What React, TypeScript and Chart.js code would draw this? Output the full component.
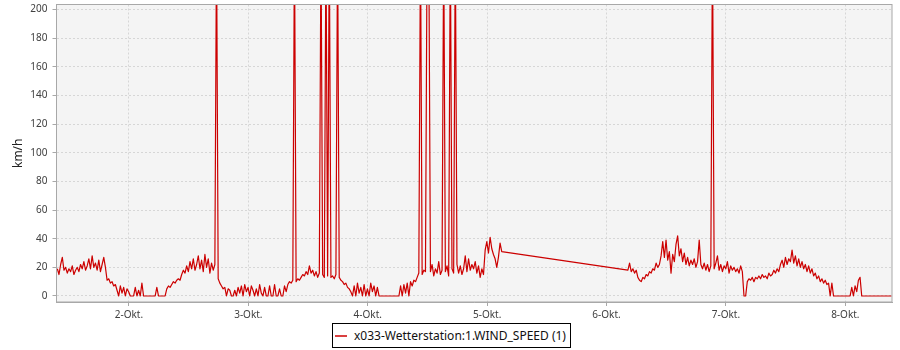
import React, { useEffect, useRef } from "react";
import { Chart, registerables } from "chart.js";

Chart.register(...registerables);

// ---- data ----
const seriesLabel = "x033-Wetterstation:1.WIND_SPEED (1)";
const yAxisTitle = "km/h";
const monthSuffix = "-Okt.";
const dayTicks = [2, 3, 4, 5, 6, 7, 8];
const speedTicks = [0, 20, 40, 60, 80, 100, 120, 140, 160, 180, 200];

// sampling interval of the readings, in minutes
const STEP_MINUTES = 20;

// first block: 1-Okt ~09:35 to 5-Okt ~02:55 (day-of-month, fractional)
const segmentAStartDay = 1.4;
const segmentA = [
  19, 15, 22, 27, 18, 20, 16, 19, 17, 21,
  15, 18, 20, 17, 22, 19, 24, 18, 21, 26,
  19, 28, 20, 23, 18, 25, 17, 22, 27, 20,
  11, 12, 9, 10, 7, 8, 4, 0, 7, 2,
  6, 0, 5, 3, 0, 0, 0, 6, 0, 4,
  0, 9, 0, 0, 0, 0, 0, 0, 0, 0,
  6, 0, 0, 0, 0, 0, 5, 7, 6, 8,
  10, 9, 11, 12, 11, 15, 18, 16, 21, 17,
  24, 19, 26, 18, 22, 28, 19, 25, 17, 29,
  20, 26, 16, 23, 18, 22, 250, 12, 9, 7,
  5, 6, 0, 5, 4, 0, 0, 4, 0, 6,
  2, 7, 0, 8, 3, 6, 0, 7, 4, 0,
  5, 0, 8, 2, 0, 6, 0, 0, 7, 0,
  0, 8, 0, 0, 5, 0, 0, 7, 3, 8,
  10, 9, 11, 250, 10, 12, 11, 13, 15, 14,
  17, 15, 21, 16, 18, 14, 17, 13, 16, 250,
  15, 13, 250, 14, 250, 13, 14, 12, 15, 250,
  13, 11, 10, 8, 9, 6, 5, 3, 0, 7,
  0, 9, 2, 6, 0, 8, 0, 5, 0, 9,
  3, 7, 0, 6, 0, 0, 0, 0, 0, 0,
  0, 0, 0, 0, 0, 0, 0, 7, 0, 8,
  2, 9, 0, 10, 7, 11, 10, 13, 16, 250,
  15, 18, 17, 250, 250, 17, 22, 14, 19, 16,
  24, 15, 18, 250, 17, 21, 14, 250, 19, 16,
  250, 22, 16, 21, 15, 19, 28, 17, 26, 18,
  22, 19, 24, 16, 21, 13, 19, 15, 32, 38,
  30, 41, 33, 29, 26, 20, 27, 37, 31,
];

// second block after the data gap: 6-Okt ~04:20 to 8-Okt ~09:20
const segmentBStartDay = 6.179;
const segmentB = [
  18, 23, 17, 19, 16, 18, 13, 11, 10, 13,
  12, 15, 14, 17, 16, 19, 18, 23, 20, 22,
  28, 38, 27, 39, 25, 31, 16, 29, 24, 36,
  42, 28, 33, 24, 30, 22, 27, 21, 25, 22,
  26, 20, 24, 39, 22, 19, 23, 18, 22, 17,
  21, 250, 19, 23, 28, 18, 22, 17, 21, 19,
  24, 16, 21, 18, 20, 17, 19, 16, 21, 17,
  0, 0, 10, 12, 11, 13, 10, 13, 12, 14,
  12, 15, 13, 14, 12, 16, 14, 15, 18, 16,
  19, 17, 22, 25, 20, 27, 22, 26, 24, 32,
  23, 28, 21, 26, 20, 24, 19, 22, 17, 21,
  16, 19, 14, 16, 12, 14, 10, 12, 9, 11,
  8, 9, 0, 9, 0, 0, 0, 0, 0, 0,
  0, 0, 0, 0, 0, 6, 0, 7, 3, 11,
  13, 0, 0, 0, 0, 0, 0, 0, 0, 0,
  0, 0, 0, 0, 0, 0, 0, 0, 0, 0,
];

// ---- styling ----
const FONT = "'Noto Sans', 'Open Sans', sans-serif";
const LINE_COLOR = "#cc0000";
const PLOT_BG = "#f4f4f4";
const FRAME_COLOR = "#a8a8a8";
const GRID_COLOR = "#d6d6d6";
const TEXT_COLOR = "#404040";

const plotFrame = {
  id: "plotFrame",
  beforeDraw(chart: any) {
    const { ctx, chartArea } = chart;
    if (!chartArea) return;
    const { left, top, right, bottom } = chartArea;
    ctx.save();
    ctx.fillStyle = PLOT_BG;
    ctx.fillRect(left, top, right - left, bottom - top);
    ctx.restore();
  },
  afterDraw(chart: any) {
    const { ctx, chartArea } = chart;
    if (!chartArea) return;
    const { left, top, right, bottom } = chartArea;
    ctx.save();
    ctx.strokeStyle = FRAME_COLOR;
    ctx.lineWidth = 1;
    ctx.strokeRect(left, top, right - left, bottom - top);
    ctx.restore();
  },
};

export default function App() {
  const canvasRef = useRef<HTMLCanvasElement | null>(null);

  useEffect(() => {
    if (!canvasRef.current) return;
    const step = STEP_MINUTES / 1440;
    const points = [
      ...segmentA.map((v, i) => ({ x: segmentAStartDay + i * step, y: v })),
      ...segmentB.map((v, i) => ({ x: segmentBStartDay + i * step, y: v })),
    ];

    Chart.defaults.font.family = FONT;

    const chart = new Chart(canvasRef.current, {
      type: "line",
      data: {
        datasets: [
          {
            label: seriesLabel,
            data: points,
            borderColor: LINE_COLOR,
            backgroundColor: LINE_COLOR,
            borderWidth: 1.2,
            pointRadius: 0,
            pointHoverRadius: 0,
            tension: 0,
            fill: false,
            borderJoinStyle: "round",
          },
        ],
      },
      options: {
        animation: false,
        responsive: false,
        maintainAspectRatio: false,
        events: [],
        layout: { padding: { left: 0, right: 8, top: 4.5, bottom: 0 } },
        plugins: {
          legend: { display: false },
          tooltip: { enabled: false },
        },
        scales: {
          x: {
            type: "linear",
            min: 1.393,
            max: 8.391,
            afterBuildTicks: (s: any) => {
              s.ticks = dayTicks.map((v) => ({ value: v }));
            },
            afterFit: (s: any) => {
              s.height = 48;
              s.paddingLeft = 0;
              s.paddingRight = 0;
            },
            ticks: {
              autoSkip: false,
              maxRotation: 0,
              padding: 3,
              color: TEXT_COLOR,
              font: { size: 10, family: FONT },
              callback: (v: any) => `${v}${monthSuffix}`,
            },
            grid: {
              color: GRID_COLOR,
              lineWidth: 1,
              tickLength: 4,
              tickColor: FRAME_COLOR,
            },
            border: { display: true, color: FRAME_COLOR, width: 1, dash: [2, 2] },
          },
          y: {
            type: "linear",
            min: -4.2,
            max: 203.6,
            afterBuildTicks: (s: any) => {
              s.ticks = speedTicks.map((v) => ({ value: v }));
            },
            afterFit: (s: any) => {
              s.width = 56.5;
              s.paddingTop = 0;
              s.paddingBottom = 0;
            },
            ticks: {
              padding: 5,
              color: TEXT_COLOR,
              font: { size: 10, family: FONT },
              callback: (v: any) => `${v}`,
            },
            grid: {
              color: GRID_COLOR,
              lineWidth: 1,
              tickLength: 4,
              tickColor: FRAME_COLOR,
            },
            border: { display: true, color: FRAME_COLOR, width: 1, dash: [2, 2] },
            title: {
              display: true,
              text: yAxisTitle,
              color: "#222",
              font: { size: 12, family: FONT },
              padding: { top: 11, bottom: 0 },
            },
          },
        },
      },
      plugins: [plotFrame],
    });

    return () => chart.destroy();
  }, []);

  return (
    <div
      style={{
        position: "fixed",
        left: 0,
        top: 0,
        width: 900,
        height: 350,
        background: "#fff",
      }}
    >
      <canvas ref={canvasRef} width={900} height={350} style={{ display: "block" }} />
      <div
        style={{
          position: "absolute",
          left: 332,
          top: 323,
          width: 239,
          height: 25,
          boxSizing: "border-box",
          border: "1px solid #000",
          display: "flex",
          alignItems: "center",
          fontFamily: FONT,
          fontSize: 12,
          color: "#111",
          background: "#fff",
          whiteSpace: "nowrap",
        }}
      >
        <span
          style={{
            display: "inline-block",
            width: 12,
            height: 0,
            borderTop: `2px solid ${LINE_COLOR}`,
            opacity: 0.75,
            marginLeft: 2,
            marginRight: 7,
          }}
        />
        <span>{seriesLabel}</span>
      </div>
    </div>
  );
}
